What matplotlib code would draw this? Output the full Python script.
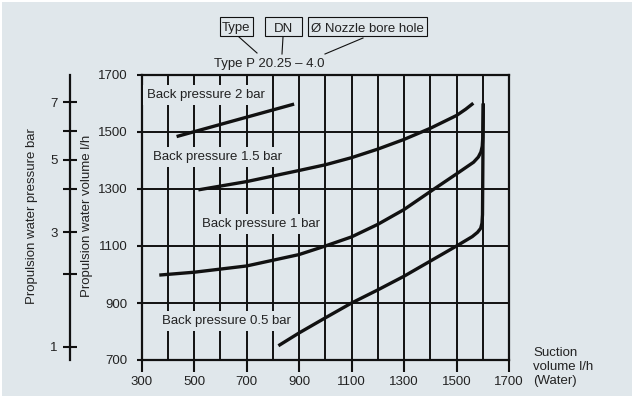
import matplotlib.pyplot as plt
from matplotlib.patches import Rectangle
from matplotlib.lines import Line2D

plt.rcParams['font.family'] = ['Liberation Sans', 'DejaVu Sans']
plt.rcParams['font.size'] = 9.5

BG = '#e0e7eb'
INK = '#111111'
TXT = '#222222'

# curves: suction volume (x) vs propulsion water volume (y)
bp2_x = [433, 637, 881]
bp2_y = [1484, 1536, 1598]

bp15_x = [516, 700, 900, 1000, 1100, 1200, 1300, 1400, 1500, 1535, 1564]
bp15_y = [1297, 1326, 1365, 1385, 1410, 1440, 1474, 1513, 1558, 1580, 1601]

bp1_x = [367, 500, 700, 900, 1000, 1100, 1200, 1300, 1400, 1500, 1565, 1583,
         1593, 1598, 1600, 1602]
bp1_y = [998, 1008, 1030, 1070, 1100, 1132, 1176, 1228, 1291, 1353, 1394, 1412,
         1430, 1450, 1480, 1600]

bp05_x = [821, 900, 1000, 1100, 1200, 1300, 1400, 1500, 1560, 1580, 1592, 1597,
          1599, 1602]
bp05_y = [750, 795, 848, 900, 946, 994, 1047, 1100, 1133, 1148, 1162, 1180,
          1210, 1600]

labels = ['Back pressure 2 bar', 'Back pressure 1.5 bar',
          'Back pressure 1 bar', 'Back pressure 0.5 bar']
label_x = [319, 344, 529, 376]
label_y = [1630, 1411, 1176, 837]

# left pressure scale: pressure value and the volume it lines up with
pressure_vals = [1, 2, 3, 4, 5, 6, 7]
pressure_pos = [747, 1002, 1148, 1299, 1402, 1502, 1604]

x_major = list(range(300, 1701, 200))
x_minor = list(range(400, 1700, 100))
y_major = list(range(700, 1701, 200))

W, H = 632, 396
fx = lambda p: p / W
fy = lambda p: 1 - p / H

fig = plt.figure(figsize=(6.32, 3.96), dpi=100, facecolor='white')
fig.add_artist(Rectangle((fx(2), 0), 1, fy(2), transform=fig.transFigure,
                         facecolor=BG, edgecolor='none', zorder=-10))

ax = fig.add_axes([fx(141.7), 1 - 360 / H, 367.3 / W, 285 / H])
ax.set_facecolor(BG)
ax.set_xlim(300, 1700)
ax.set_ylim(700, 1700)
ax.set_xticks(x_major)
ax.set_xticks(x_minor, minor=True)
ax.set_yticks(y_major)
ax.set_axisbelow(True)
ax.grid(True, which='both', axis='x', color=INK, lw=1.4)
ax.grid(True, which='major', axis='y', color=INK, lw=1.4)
for s in ax.spines.values():
    s.set_linewidth(1.6)
    s.set_color(INK)
ax.tick_params(axis='x', which='major', length=8.6, width=1.5, pad=3,
               color=INK, labelcolor=TXT)
ax.tick_params(axis='x', which='minor', length=0)
ax.tick_params(axis='y', length=3.6, width=1.5, pad=6.5, color=INK, labelcolor=TXT)

for xs, ys in [(bp2_x, bp2_y), (bp15_x, bp15_y), (bp1_x, bp1_y), (bp05_x, bp05_y)]:
    ax.plot(xs, ys, color=INK, lw=2.4, solid_capstyle='butt', solid_joinstyle='round',
            zorder=4)

for t, x, y in zip(labels, label_x, label_y):
    ax.text(x, y, t, ha='left', va='center', color=TXT, zorder=3,
            bbox=dict(boxstyle='square,pad=0.3', fc=BG, ec='none'))

# pressure scale
ax2 = ax.twinx()
ax2.set_ylim(700, 1700)
for name, s in ax2.spines.items():
    s.set_visible(name == 'left')
ax2.spines['left'].set_position(('outward', 51.6))
ax2.spines['left'].set_linewidth(1.6)
ax2.spines['left'].set_color(INK)
ax2.yaxis.tick_left()
ax2.set_yticks(pressure_pos, [str(p) if p % 2 else '' for p in pressure_vals])
ax2.tick_params(axis='y', direction='inout', length=9.4, width=1.5, pad=4,
                color=INK, labelcolor=TXT)

fig.text(fx(32), fy(216), 'Propulsion water pressure bar', rotation=90,
         ha='center', va='center', color=TXT)
fig.text(fx(87), fy(216), 'Propulsion water volume l/h', rotation=90,
         ha='center', va='center', color=TXT)
fig.text(fx(533), fy(367), 'Suction\nvolume l/h\n(Water)', ha='left', va='center',
         linespacing=1.2, color=TXT)

# type code legend at the top
boxes = [('Type', 220, 253), ('DN', 265, 302), ('Ø Nozzle bore hole', 308, 427)]
for t, x0, x1 in boxes:
    fig.add_artist(Rectangle((fx(x0), fy(36)), (x1 - x0) / W, 19 / H,
                             transform=fig.transFigure, facecolor=BG,
                             edgecolor=INK, lw=0.8))
    fig.text(fx((x0 + x1) / 2), fy(27), t, ha='center', va='center_baseline',
             color=TXT)
for (xa, ya), (xb, yb) in [((239, 37), (257, 53)), ((283, 37), (282, 54)),
                           ((363, 38), (325, 54))]:
    fig.add_artist(Line2D([fx(xa), fx(xb)], [fy(ya), fy(yb)],
                          transform=fig.transFigure, color=INK, lw=0.8))
fig.text(fx(269), fy(63), 'Type P 20.25 – 4.0', ha='center', va='center_baseline',
         color=TXT)

fig.savefig('out.png', dpi=100, facecolor='white')
